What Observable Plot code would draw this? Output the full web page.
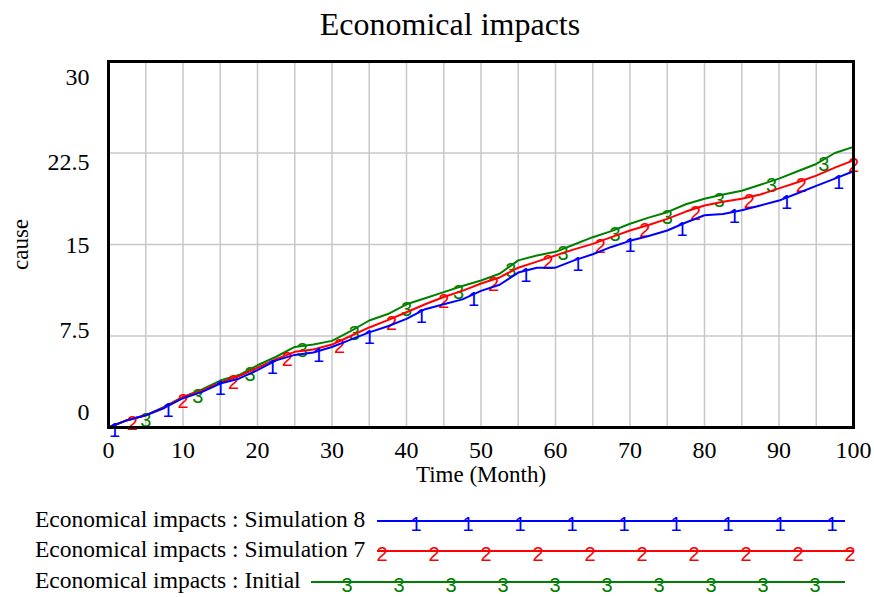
<!DOCTYPE html>
<html>
<head>
<meta charset="utf-8">
<script src="https://cdn.jsdelivr.net/npm/d3@7"></script>
<script src="https://cdn.jsdelivr.net/npm/@observablehq/plot@0.6"></script>
<style>
  html, body { margin: 0; padding: 0; background: white; }
  #page { position: relative; width: 874px; height: 597px; overflow: hidden; background: white; }
  #title { position: absolute; left: 0; top: 0; width: 900px; height: 48px; line-height: 48px; text-align: center;
           font-family: "Liberation Serif", "Times New Roman", serif; font-size: 32px; color: black; }
  #chart { position: absolute; left: 0; top: 45px; }
  #legend { position: absolute; left: 0; top: 500px; }
</style>
</head>
<body>
<div id="page">
  <div id="title">Economical impacts</div>
  <div id="chart"></div>
  <div id="legend"></div>
</div>
<script>
// ---- data ----
const time = [0, 2.5, 5, 7.5, 10, 12.5, 15, 17.5, 20, 22.5, 25, 27.5, 30, 32.5, 35, 37.5, 40, 42.5, 45, 47.5, 50,
              52.5, 55, 57.5, 60, 62.5, 65, 67.5, 70, 72.5, 75, 77.5, 80, 82.5, 85, 87.5, 90, 92.5, 95, 97.5, 100];
const sim8 = [0, 0.6, 1.0, 1.6, 2.4, 2.9, 3.6, 4.0, 4.7, 5.5, 5.95, 6.15, 6.6, 7.2, 7.8, 8.3, 8.9, 9.7, 10.1, 10.5, 11.2,
              11.7, 12.7, 13.1, 13.1, 13.7, 14.2, 14.8, 15.3, 15.7, 16.15, 16.8, 17.4, 17.5, 17.8, 18.2, 18.6, 19.2, 19.8, 20.4, 21.0];
const sim7 = [0, 0.6, 1.0, 1.65, 2.5, 3.0, 3.7, 4.2, 4.9, 5.6, 6.2, 6.4, 6.8, 7.5, 8.2, 8.8, 9.45, 10.1, 10.7, 11.2, 11.8,
              12.3, 13.1, 13.6, 14.1, 14.6, 15.05, 15.6, 16.15, 16.6, 17.1, 17.7, 18.2, 18.5, 18.75, 19.1, 19.6, 20.1, 20.65, 21.3, 21.9];
const initial = [0, 0.6, 1.0, 1.7, 2.5, 3.1, 3.85, 4.3, 5.1, 5.8, 6.6, 6.8, 7.1, 7.9, 8.77, 9.3, 10.1, 10.6, 11.1, 11.6, 12.05,
              12.6, 13.7, 14.1, 14.4, 15.0, 15.6, 16.1, 16.7, 17.2, 17.65, 18.3, 18.75, 19.1, 19.4, 19.9, 20.4, 21.0, 21.6, 22.5, 23.0];
const markerTimes8 = [0.8, 8, 15, 22, 28.2, 35, 42, 49, 56, 63, 70, 77, 84, 91, 98];
const markerTimes7 = [3.2, 10, 16.8, 24, 31, 38, 45, 51.7, 59, 66, 72, 78.8, 86, 93, 100];
const markerTimesI = [5, 12, 19, 26, 33, 40, 47, 54, 61, 68, 75, 82, 89, 96];
const seriesNames = ["Economical impacts : Simulation 8", "Economical impacts : Simulation 7", "Economical impacts : Initial"];
const seriesMarks = ["1", "2", "3"];
const seriesColors = ["#0000ff", "#ff0000", "#008000"];
const xTicks = [0, 10, 20, 30, 40, 50, 60, 70, 80, 90, 100];
const xGrid = [0, 5, 10, 15, 20, 25, 30, 35, 40, 45, 50, 55, 60, 65, 70, 75, 80, 85, 90, 95, 100];
const yTicks = [0, 7.5, 15, 22.5, 30];
const yTickLabels = ["0", "7.5", "15", "22.5", "30"];
const yGrid = [7.5, 15, 22.5];

// ---- build tables ----
const seriesValues = [sim8, sim7, initial];
const markerTimes = [markerTimes8, markerTimes7, markerTimesI];
function valueAt(vals, t) {
  const i = Math.min(d3.bisectRight(time, t), time.length - 1);
  if (i === 0) return vals[0];
  const t0 = time[i - 1], t1 = time[i];
  const f = t1 === t0 ? 0 : Math.max(0, Math.min(1, (t - t0) / (t1 - t0)));
  return vals[i - 1] + f * (vals[i] - vals[i - 1]);
}
const lineRows = seriesValues.map((vals, s) => time.map((t, i) => ({t, v: vals[i], s})));
const markerRows = markerTimes.map((ts, s) => ts.map(t => ({t, v: valueAt(seriesValues[s], t), s, m: seriesMarks[s]})));

const serif = '"Liberation Serif", "Times New Roman", serif';
const sans = '"Liberation Sans", Arial, sans-serif';
const yLabelShift = [-15, -6, 1, 9, 16];

const marks = [
  Plot.gridX(xGrid, {stroke: "#c8c8c8", strokeOpacity: 1, strokeWidth: 1.5}),
  Plot.gridY(yGrid, {stroke: "#c8c8c8", strokeOpacity: 1, strokeWidth: 1.5}),
];
[2, 1, 0].forEach(s => {
  marks.push(Plot.line(lineRows[s], {x: "t", y: "v", stroke: seriesColors[s], strokeWidth: 2}));
  marks.push(Plot.text(markerRows[s], {x: "t", y: "v", text: "m", fill: seriesColors[s],
    fontFamily: sans, fontSize: 20, dy: 5}));
});
marks.push(Plot.frame({stroke: "black", strokeWidth: 3}));
marks.push(Plot.axisX(xTicks, {tickSize: 0, tickPadding: 13, label: null, fontSize: 24, fontFamily: serif,
  tickFormat: d => String(d)}));
yTicks.forEach((v, i) => {
  marks.push(Plot.axisY([v], {tickSize: 0, tickPadding: 19, label: null, dy: yLabelShift[i], fontSize: 24,
    fontFamily: serif, tickFormat: () => yTickLabels[i]}));
});
marks.push(Plot.text(["Time (Month)"], {text: d => d, frameAnchor: "bottom", dy: 54, fontSize: 23, fontFamily: serif, fill: "black"}));
marks.push(Plot.text(["cause"], {text: d => d, frameAnchor: "left", rotate: -90, dx: -88, textAnchor: "middle",
  fontSize: 23, fontFamily: serif, fill: "black"}));

const chart = Plot.plot({
  width: 874, height: 455,
  marginLeft: 108, marginRight: 21, marginTop: 16, marginBottom: 73,
  x: {domain: [0, 100], label: null},
  y: {domain: [0, 30], label: null},
  style: {fontFamily: serif, fontSize: "24px", color: "black", background: "white", overflow: "visible"},
  marks
});
document.getElementById("chart").appendChild(chart);

// ---- legend ----
const legendGeom = [
  {y: 22, lineStart: 377, lineEnd: 845, first: 416, count: 9},
  {y: 52, lineStart: 377, lineEnd: 853, first: 382, count: 10},
  {y: 83, lineStart: 311, lineEnd: 845, first: 347, count: 10}
];
const lg = d3.select("#legend").append("svg").attr("width", 874).attr("height", 97);
seriesNames.forEach((name, s) => {
  const g = legendGeom[s];
  lg.append("text").attr("x", 35).attr("y", g.y).attr("dominant-baseline", "middle")
    .attr("font-family", serif).attr("font-size", 23.5).attr("fill", "black").text(name);
  lg.append("line").attr("x1", g.lineStart).attr("x2", g.lineEnd).attr("y1", g.y - 1).attr("y2", g.y - 1)
    .attr("stroke", seriesColors[s]).attr("stroke-width", 2);
  d3.range(g.count).forEach(k => {
    lg.append("text").attr("x", g.first + 52 * k).attr("y", g.y + 4).attr("text-anchor", "middle")
      .attr("dominant-baseline", "middle").attr("font-family", sans).attr("font-size", 20)
      .attr("fill", seriesColors[s]).text(seriesMarks[s]);
  });
});
</script>
</body>
</html>
